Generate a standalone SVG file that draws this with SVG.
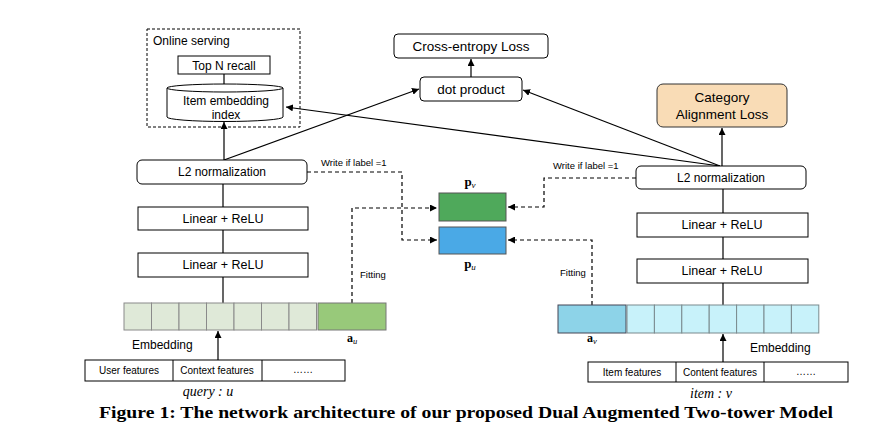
<svg xmlns="http://www.w3.org/2000/svg" width="883" height="435" viewBox="0 0 883 435">
<defs>
<marker id="ah" viewBox="0 0 10 10" refX="10" refY="5" markerWidth="7" markerHeight="7" orient="auto" markerUnits="userSpaceOnUse">
<path d="M0,0 L10,5 L0,10 z" fill="#000"/>
</marker>
<style>
.box{fill:#fff;stroke:#000;stroke-width:1}
.t{font-family:"Liberation Sans",Arial,sans-serif;fill:#000;text-anchor:middle}
.s12{font-size:12px}
.s13{font-size:13.5px}
.s10{font-size:10px}
.s9{font-size:9.5px}
.ln{fill:none;stroke:#000;stroke-width:1.2}
.dash{fill:none;stroke:#000;stroke-width:1.2;stroke-dasharray:4 3}
.cl{fill:#dfe9d8;stroke:#8a8a8a;stroke-width:1}
.cr{fill:#c8f2fa;stroke:#7a8a8e;stroke-width:1}
.m{font-family:"Liberation Serif","DejaVu Serif",serif;fill:#000;text-anchor:middle}
</style>
</defs>
<rect width="883" height="435" fill="#fff"/>

<g id="connectors">
<line class="ln" x1="224" y1="160" x2="224" y2="122" marker-end="url(#ah)"/>
<line class="ln" x1="224" y1="74" x2="224" y2="84"/>
<line class="ln" x1="224" y1="160" x2="419" y2="89" marker-end="url(#ah)"/>
<line class="ln" x1="720" y1="166" x2="523" y2="90" marker-end="url(#ah)"/>
<line class="ln" x1="720" y1="166" x2="286" y2="107" marker-end="url(#ah)"/>
<line class="ln" x1="471" y1="77" x2="471" y2="59" marker-end="url(#ah)"/>
<line class="ln" x1="722" y1="166" x2="722" y2="128" marker-end="url(#ah)"/>
<line class="ln" x1="223" y1="184" x2="223" y2="207"/>
<line class="ln" x1="223" y1="230" x2="223" y2="253"/>
<line class="ln" x1="223" y1="277" x2="223" y2="303"/>
<line class="ln" x1="218" y1="360" x2="218" y2="331" marker-end="url(#ah)"/>
<line class="ln" x1="723" y1="189" x2="723" y2="213"/>
<line class="ln" x1="723" y1="237" x2="723" y2="259"/>
<line class="ln" x1="723" y1="283" x2="723" y2="305"/>
<line class="ln" x1="723" y1="362" x2="723" y2="334" marker-end="url(#ah)"/>
<path class="dash" d="M307,172 H402 V240 H437" marker-end="url(#ah)"/>
<path class="dash" d="M352,303 V208 H437" marker-end="url(#ah)"/>
<path class="dash" d="M636,178 H544 V207 H508" marker-end="url(#ah)"/>
<path class="dash" d="M592,305 V240 H508" marker-end="url(#ah)"/>
<text class="t s9" x="321" y="166" text-anchor="start" style="text-anchor:start">Write if label =1</text>
<text class="t s9" x="553" y="169" style="text-anchor:start">Write if label =1</text>
<text class="t s9" x="360" y="278" style="text-anchor:start">Fitting</text>
<text class="t s9" x="560" y="276" style="text-anchor:start">Fitting</text>
</g>

<g id="online-serving">
<rect x="147" y="29" width="153" height="98" fill="none" stroke="#000" stroke-width="1" stroke-dasharray="3 2"/>
<text class="t s12" x="153" y="45" style="text-anchor:start">Online serving</text>
</g>

<g id="top-n-recall">
<rect class="box" x="178" y="56" width="92" height="18"/>
<text class="t s12" x="224" y="69.5">Top N recall</text>
</g>

<g id="item-embedding-index">
<path d="M167,88 V117 A58,4.5 0 0 0 283,117 V88" fill="#fff" stroke="#000" stroke-width="1"/>
<ellipse cx="225" cy="88" rx="58" ry="4" fill="#fff" stroke="#000" stroke-width="1"/>
<text class="t s12" x="226" y="105">Item embedding</text>
<text class="t s12" x="226" y="119">index</text>
</g>

<g id="cross-entropy-loss">
<rect class="box" x="394" y="34" width="154" height="24" rx="4"/>
<text class="t s13" x="471" y="51">Cross-entropy Loss</text>
</g>

<g id="dot-product">
<rect class="box" x="420" y="77" width="102" height="24" rx="4"/>
<text class="t s13" x="471" y="94">dot product</text>
</g>

<g id="category-alignment-loss">
<rect x="657" y="84" width="130" height="43" rx="6" fill="#f9dcb6" stroke="#333" stroke-width="1"/>
<text class="t s13" x="722" y="102">Category</text>
<text class="t s13" x="722" y="119">Alignment Loss</text>
</g>

<g id="l2-left">
<rect class="box" x="137" y="160" width="170" height="24" rx="5"/>
<text class="t s12" x="222" y="176">L2 normalization</text>
</g>
<g id="linear1-left">
<rect class="box" x="138" y="207" width="170" height="23"/>
<text class="t s12" x="223" y="223" style="font-size:12.5px">Linear + ReLU</text>
</g>
<g id="linear2-left">
<rect class="box" x="138" y="253" width="170" height="24"/>
<text class="t s12" x="223" y="269" style="font-size:12.5px">Linear + ReLU</text>
</g>

<g id="l2-right">
<rect class="box" x="636" y="166" width="170" height="23" rx="5"/>
<text class="t s12" x="721" y="182">L2 normalization</text>
</g>
<g id="linear1-right">
<rect class="box" x="637" y="213" width="171" height="24"/>
<text class="t s12" x="722" y="229" style="font-size:12.5px">Linear + ReLU</text>
</g>
<g id="linear2-right">
<rect class="box" x="637" y="259" width="171" height="24"/>
<text class="t s12" x="722" y="275" style="font-size:12.5px">Linear + ReLU</text>
</g>

<g id="pv">
<rect x="439" y="193" width="67" height="28" fill="#4fa95b" stroke="#555" stroke-width="1"/>
<text class="m" x="470" y="186" font-size="13"><tspan font-weight="bold">p</tspan><tspan font-style="italic" font-size="9" dy="2">v</tspan></text>
</g>
<g id="pu">
<rect x="439" y="227" width="67" height="27" fill="#4aa9e6" stroke="#555" stroke-width="1"/>
<text class="m" x="470" y="268" font-size="13"><tspan font-weight="bold">p</tspan><tspan font-style="italic" font-size="9" dy="2">u</tspan></text>
</g>

<g id="embedding-left">
<rect class="cl" x="124" y="303" width="27.5" height="27"/>
<rect class="cl" x="151.5" y="303" width="27.5" height="27"/>
<rect class="cl" x="179" y="303" width="27.5" height="27"/>
<rect class="cl" x="206.5" y="303" width="27.5" height="27"/>
<rect class="cl" x="234" y="303" width="27.5" height="27"/>
<rect class="cl" x="261.5" y="303" width="27.5" height="27"/>
<rect class="cl" x="289" y="303" width="27.5" height="27"/>
<text class="t s12" x="132" y="349" style="text-anchor:start">Embedding</text>
</g>
<g id="au">
<rect x="318" y="303" width="68" height="27" fill="#98c97a" stroke="#777" stroke-width="1"/>
<text class="m" x="352" y="342" font-size="12"><tspan font-weight="bold">a</tspan><tspan font-style="italic" font-size="8.5" dy="2">u</tspan></text>
</g>

<g id="av">
<rect x="558" y="305" width="68" height="28" fill="#8dd3e8" stroke="#445" stroke-width="1"/>
<text class="m" x="592" y="342" font-size="12"><tspan font-weight="bold">a</tspan><tspan font-style="italic" font-size="8.5" dy="2">v</tspan></text>
</g>
<g id="embedding-right">
<rect class="cr" x="627" y="305" width="27.4" height="28"/>
<rect class="cr" x="654.4" y="305" width="27.4" height="28"/>
<rect class="cr" x="681.8" y="305" width="27.4" height="28"/>
<rect class="cr" x="709.2" y="305" width="27.4" height="28"/>
<rect class="cr" x="736.6" y="305" width="27.4" height="28"/>
<rect class="cr" x="764" y="305" width="27.4" height="28"/>
<rect class="cr" x="791.4" y="305" width="27.4" height="28"/>
<text class="t s12" x="750" y="352" style="text-anchor:start">Embedding</text>
</g>

<g id="query-features">
<rect class="box" x="85" y="360" width="260" height="21"/>
<line x1="173" y1="360" x2="173" y2="381" stroke="#000"/>
<line x1="262" y1="360" x2="262" y2="381" stroke="#000"/>
<text class="t s10" x="129" y="374">User features</text>
<text class="t s10" x="217" y="374">Context features</text>
<text class="t s10" x="303" y="373">……</text>
<text class="m" x="208" y="396" font-size="14" font-style="italic">query : u</text>
</g>

<g id="item-features">
<rect class="box" x="588" y="362" width="260" height="20"/>
<line x1="676" y1="362" x2="676" y2="382" stroke="#000"/>
<line x1="764" y1="362" x2="764" y2="382" stroke="#000"/>
<text class="t s10" x="632" y="376">Item features</text>
<text class="t s10" x="720" y="376">Content features</text>
<text class="t s10" x="806" y="375">……</text>
<text class="m" x="711" y="398" font-size="14" font-style="italic">item : v</text>
</g>

<text x="99" y="418" font-family="'Liberation Serif','DejaVu Serif',serif" font-weight="bold" font-size="16" textLength="734" lengthAdjust="spacingAndGlyphs">Figure 1: The network architecture of our proposed Dual Augmented Two-tower Model</text>
</svg>
